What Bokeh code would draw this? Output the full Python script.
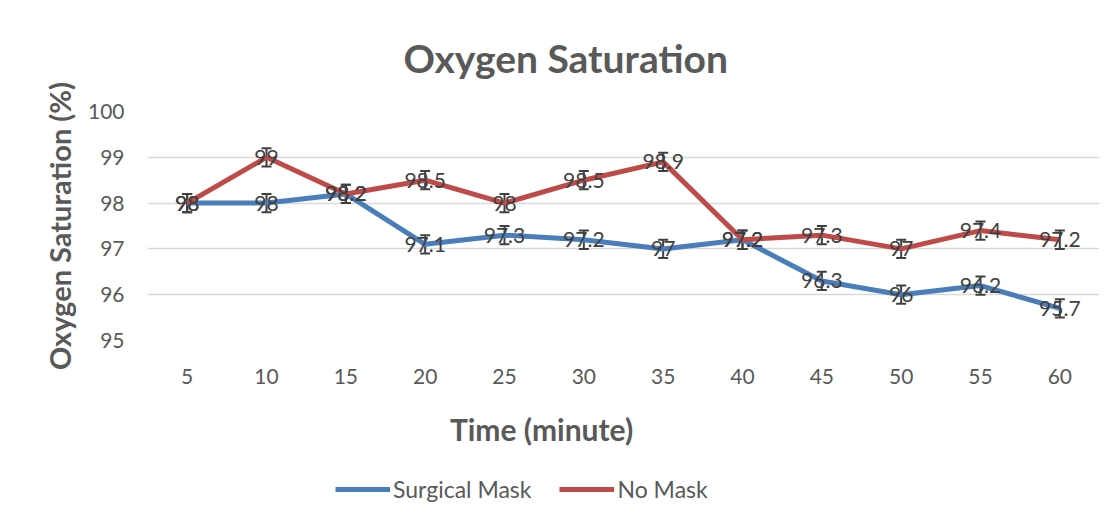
from bokeh.plotting import figure
from bokeh.layouts import column
from bokeh.models import (ColumnDataSource, Range1d, FactorRange, Whisker, TeeHead,
                          Legend, LegendItem, Title, Label)
from bokeh.core.properties import value
from bokeh.embed import file_html
from bokeh.resources import INLINE

times = ["5", "10", "15", "20", "25", "30", "35", "40", "45", "50", "55", "60"]
surgical_mask = [98, 98, 98.2, 97.1, 97.3, 97.2, 97, 97.2, 96.3, 96, 96.2, 95.7]
no_mask = [98, 99, 98.2, 98.5, 98, 98.5, 98.9, 97.2, 97.3, 97, 97.4, 97.2]
error = [0.2] * 12
y_ticks = [95, 96, 97, 98, 99, 100]

FONT = "Lato"
GRAY = "#595959"
DARK = "#404040"
BLUE = "#4A7EBB"
RED = "#BE4B48"
W = 1117
FL, FR = 147, 1099   # frame left/right in canvas pixels

p = figure(x_range=FactorRange(*times), y_range=Range1d(95, 100),
           width=W, height=400, output_backend="svg", toolbar_location=None,
           min_border_left=FL, min_border_right=W - FR, min_border_top=111,
           min_border_bottom=60)
p.outline_line_color = None
p.border_fill_color = "white"

p.title = Title(text="Oxygen Saturation", align="left", offset=256,
                text_font=FONT, text_font_size="39px", text_font_style="bold",
                text_color=GRAY, standoff=62)

p.xgrid.grid_line_color = None
p.ygrid.grid_line_color = "#D9D9D9"
p.ygrid.grid_line_width = 1.5
p.yaxis.ticker = y_ticks

for ax in (p.xaxis[0], p.yaxis[0]):
    ax.axis_line_color = None
    ax.major_tick_line_color = None
    ax.minor_tick_line_color = None
    ax.major_tick_in = 0
    ax.major_tick_out = 0
    ax.major_label_text_font = FONT
    ax.major_label_text_font_size = "21px"
    ax.major_label_text_color = GRAY

p.yaxis.major_label_standoff = 23
p.yaxis.axis_label = "Oxygen Saturation (%)"
p.yaxis.axis_label_text_font = FONT
p.yaxis.axis_label_text_font_size = "29px"
p.yaxis.axis_label_text_font_style = "bold"
p.yaxis.axis_label_text_color = GRAY
p.yaxis.axis_label_standoff = 8
p.xaxis.major_label_standoff = 28

def fmt(v):
    return f"{v:g}"

def make_src(vals):
    return ColumnDataSource(dict(x=times, y=vals,
                                 lower=[v - e for v, e in zip(vals, error)],
                                 upper=[v + e for v, e in zip(vals, error)],
                                 label=[fmt(v) for v in vals]))

src_s = make_src(surgical_mask)
src_n = make_src(no_mask)

p.line("x", "y", source=src_s, line_color=BLUE, line_width=5)
p.line("x", "y", source=src_n, line_color=RED, line_width=5)

for src in (src_s, src_n):
    p.text("x", "y", text="label", source=src, text_font=value(FONT),
           text_font_size="21px", text_color=DARK, text_align="center",
           text_baseline="middle")

for src in (src_s, src_n):
    w = Whisker(base="x", lower="lower", upper="upper", source=src,
                line_color=DARK, line_width=2,
                upper_head=TeeHead(size=10, line_color=DARK, line_width=2),
                lower_head=TeeHead(size=10, line_color=DARK, line_width=2))
    p.add_layout(w)

# lower strip: x-axis title and legend (frame aligned with the main plot)
H2 = 127
p2 = figure(width=W, height=H2, x_range=Range1d(FL, FR), y_range=Range1d(0, H2),
            output_backend="svg", toolbar_location=None,
            min_border_left=FL, min_border_right=W - FR,
            min_border_top=0, min_border_bottom=0)
p2.axis.visible = False
p2.grid.visible = False
p2.outline_line_color = None
p2.border_fill_color = "white"

p2.add_layout(Label(x=541, y=99, text="Time (minute)", text_font=FONT,
                    text_font_size="30px", text_font_style="bold",
                    text_color=GRAY, text_align="center",
                    text_baseline="middle"))

r_s = p2.line(x=[0, 1], y=[-50, -50], line_color=BLUE, line_width=5)
r_n = p2.line(x=[0, 1], y=[-50, -50], line_color=RED, line_width=5)
legend = Legend(items=[LegendItem(label="Surgical Mask", renderers=[r_s]),
                       LegendItem(label="No Mask", renderers=[r_n])],
                orientation="horizontal", location=(188, 24),
                padding=0, margin=0, spacing=28, label_standoff=3,
                glyph_width=55, glyph_height=20, border_line_color=None,
                background_fill_alpha=0,
                label_text_font=FONT, label_text_font_size="23px",
                label_text_color=GRAY)
p2.add_layout(legend, "center")

layout = column(p, p2, spacing=0)
open("out.html", "w").write(file_html(layout, INLINE))
